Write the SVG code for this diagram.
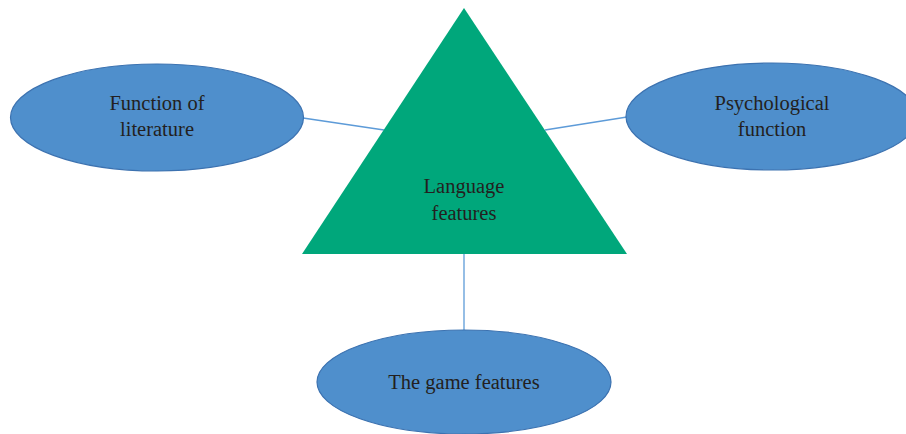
<svg xmlns="http://www.w3.org/2000/svg" width="906" height="434" viewBox="0 0 906 434">
  <style>
    .oval { fill: #4f8fcc; stroke: #3c72b0; stroke-width: 1.2; }
    .tri { fill: #00a77b; }
    .link { stroke: #5d9bd8; stroke-width: 1.3; fill: none; }
    .label { font-family: "Liberation Serif", "Times New Roman", serif; font-size: 20.5px; fill: #231f20; text-anchor: middle; }
  </style>
  <rect width="906" height="434" fill="#ffffff"/>
  <g id="connectors">
    <line class="link" x1="303" y1="118" x2="384" y2="130"/>
    <line class="link" x1="545" y1="130" x2="627" y2="117"/>
    <line class="link" x1="464" y1="254" x2="464" y2="331"/>
  </g>
  <g id="function-of-literature">
    <ellipse class="oval" cx="157" cy="117.5" rx="146.5" ry="53.5"/>
    <text class="label" x="157" y="110">Function of</text>
    <text class="label" x="157" y="136">literature</text>
  </g>
  <g id="psychological-function">
    <ellipse class="oval" cx="772" cy="116.5" rx="146" ry="53.5"/>
    <text class="label" x="772" y="110">Psychological</text>
    <text class="label" x="772" y="136">function</text>
  </g>
  <g id="language-features">
    <polygon class="tri" points="464,8 627,254 302,254"/>
    <text class="label" x="464" y="193">Language</text>
    <text class="label" x="464" y="220">features</text>
  </g>
  <g id="the-game-features">
    <ellipse class="oval" cx="464" cy="382" rx="147" ry="52"/>
    <text class="label" x="464" y="389">The game features</text>
  </g>
</svg>
